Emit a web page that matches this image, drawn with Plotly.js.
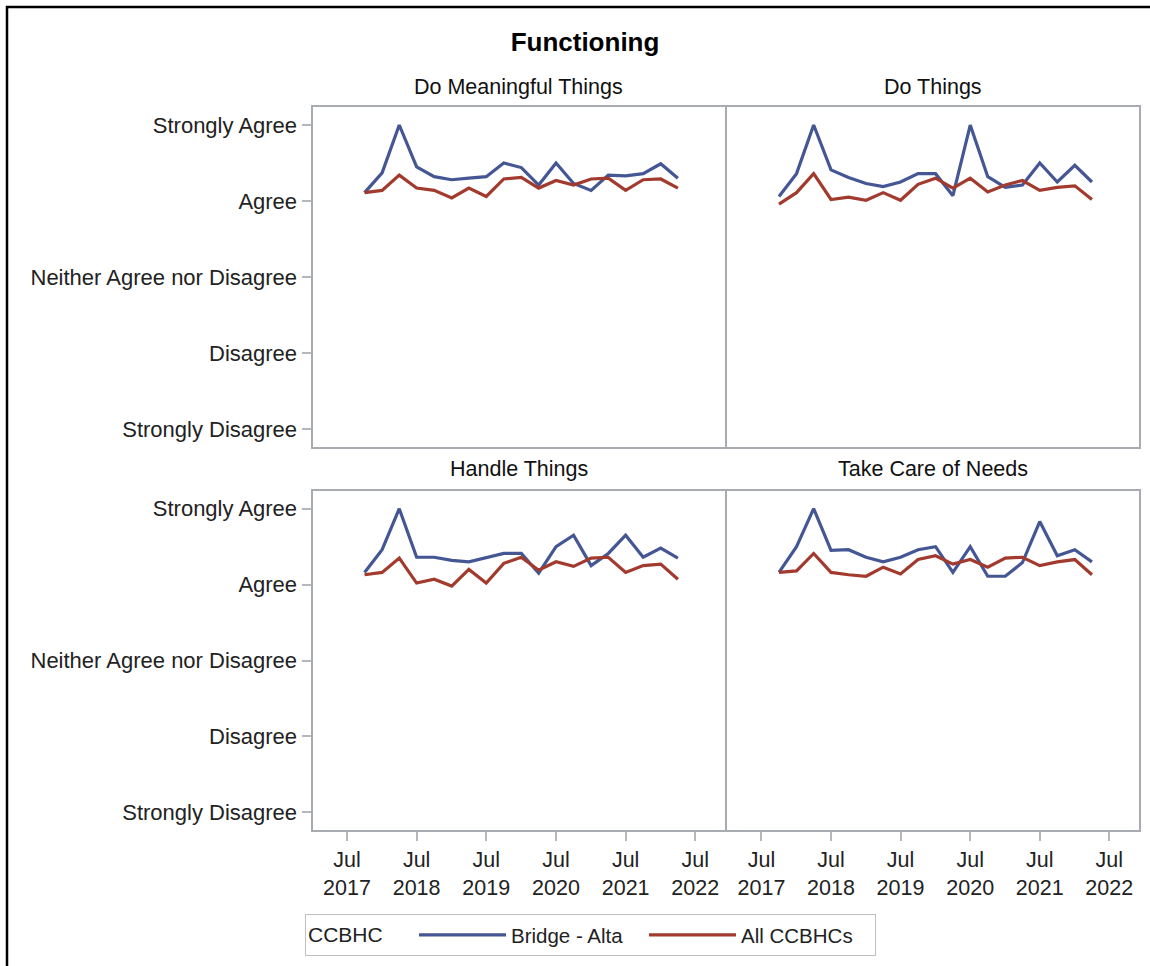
<!DOCTYPE html>
<html>
<head>
<meta charset="utf-8">
<script src="https://cdn.plot.ly/plotly-3.0.1.min.js"></script>
<style>html,body{margin:0;padding:0;background:#fff;}#chart{width:1150px;height:966px;}</style>
</head>
<body>
<div id="chart"></div>
<script>
// Quarterly survey dates
var dates = ["2017-10-01","2018-01-01","2018-04-01","2018-07-01","2018-10-01","2019-01-01","2019-04-01","2019-07-01","2019-10-01","2020-01-01","2020-04-01","2020-07-01","2020-10-01","2021-01-01","2021-04-01","2021-07-01","2021-10-01","2022-01-01","2022-04-01"];

// Scale: 1 = Strongly Disagree ... 5 = Strongly Agree
var scaleVals = [1, 2, 3, 4, 5];
var scaleLabels = ["Strongly Disagree", "Disagree", "Neither Agree nor Disagree", "Agree", "Strongly Agree"];

var panelTitles = ["Do Meaningful Things", "Do Things", "Handle Things", "Take Care of Needs"];
var seriesNames = ["Bridge - Alta", "All CCBHCs"];

var meaningfulBridge = [4.11,4.37,5.00,4.45,4.32,4.28,4.30,4.32,4.50,4.44,4.21,4.50,4.23,4.14,4.34,4.33,4.36,4.49,4.30];
var meaningfulAll    = [4.11,4.14,4.34,4.17,4.14,4.04,4.17,4.06,4.29,4.31,4.17,4.27,4.21,4.29,4.30,4.14,4.28,4.29,4.17];

var doThingsBridge = [4.06,4.36,5.00,4.41,4.31,4.23,4.19,4.25,4.36,4.36,4.07,5.00,4.32,4.18,4.21,4.50,4.25,4.47,4.25];
var doThingsAll    = [3.96,4.11,4.36,4.02,4.05,4.01,4.11,4.01,4.22,4.30,4.17,4.30,4.12,4.21,4.27,4.14,4.18,4.20,4.02];

var handleBridge = [4.16,4.46,5.00,4.36,4.36,4.32,4.30,4.36,4.41,4.41,4.15,4.50,4.65,4.25,4.41,4.65,4.36,4.48,4.35];
var handleAll    = [4.13,4.16,4.35,4.02,4.07,3.98,4.20,4.02,4.28,4.36,4.19,4.30,4.24,4.35,4.36,4.16,4.25,4.27,4.07];

var needsBridge = [4.16,4.50,5.00,4.45,4.46,4.36,4.30,4.36,4.46,4.50,4.16,4.50,4.11,4.11,4.29,4.83,4.38,4.46,4.30];
var needsAll    = [4.16,4.18,4.41,4.16,4.13,4.11,4.23,4.14,4.33,4.38,4.27,4.33,4.23,4.35,4.36,4.25,4.30,4.33,4.13];

var xTickVals = ["2017-07-01","2018-07-01","2019-07-01","2020-07-01","2021-07-01","2022-07-01"];
var xTickText = ["Jul<br>2017","Jul<br>2018","Jul<br>2019","Jul<br>2020","Jul<br>2021","Jul<br>2022"];

var blue = "#445694", red = "#A23A2E";
var FONT = "Liberation Sans, Arial, sans-serif";

var panelData = [
  [meaningfulBridge, meaningfulAll],
  [doThingsBridge, doThingsAll],
  [handleBridge, handleAll],
  [needsBridge, needsAll]
];

var traces = [];
panelData.forEach(function(p, i) {
  var sfx = i === 0 ? "" : String(i + 1);
  [0, 1].forEach(function(s) {
    traces.push({
      x: dates, y: p[s], type: "scatter", mode: "lines",
      name: seriesNames[s],
      line: {color: s === 0 ? blue : red, width: 3.2},
      xaxis: "x" + sfx, yaxis: "y" + sfx,
      showlegend: i === 0,
      hoverinfo: "x+y+name"
    });
  });
});

var W = 1150, H = 966;
function px(x) { return x / W; }
function py(y) { return 1 - y / H; }

var xL = [px(312.5), px(725)], xR = [px(727), px(1139)];
var yT = [py(446.7), py(107)], yB = [py(830), py(490.7)];
var xRange = ["2017-01-01", "2022-12-04"];
var yRange = [0.767, 5.237];
var gridCol = "#a8acb0";

function xa(dom, anchor, showLabels) {
  return {
    domain: dom, anchor: anchor, type: "date", range: xRange,
    tickvals: xTickVals, ticktext: xTickText,
    showticklabels: showLabels, ticks: showLabels ? "outside" : "",
    ticklen: 9, tickwidth: 2, tickcolor: "#b4b8bc",
    showline: true, mirror: true, linecolor: gridCol, linewidth: 2,
    showgrid: false, zeroline: false,
    tickfont: {family: FONT, size: 21.5, color: "#222"},
    fixedrange: true
  };
}
function ya(dom, anchor, showLabels) {
  return {
    domain: dom, anchor: anchor, range: yRange,
    tickvals: scaleVals, ticktext: scaleLabels,
    showticklabels: showLabels, ticks: showLabels ? "outside" : "",
    ticklen: 9, tickwidth: 2, tickcolor: "#b4b8bc",
    showline: true, mirror: true, linecolor: gridCol, linewidth: 2,
    showgrid: false, zeroline: false,
    tickfont: {family: FONT, size: 22, color: "#222"},
    fixedrange: true
  };
}

var titleFont = {family: FONT, size: 21.5, color: "#111"};
var layout = {
  width: W, height: H,
  margin: {l: 0, r: 0, t: 0, b: 0},
  paper_bgcolor: "#fff", plot_bgcolor: "#fff",
  font: {family: FONT, color: "#222"},
  title: {text: "<b>Functioning</b>", x: px(585), y: py(42), xref: "paper", yref: "paper",
          xanchor: "center", yanchor: "middle", font: {family: FONT, size: 26, color: "#000"}},
  xaxis: xa(xL, "y", false), yaxis: ya(yT, "x", true),
  xaxis2: xa(xR, "y2", false), yaxis2: ya(yT, "x2", false),
  xaxis3: xa(xL, "y3", true), yaxis3: ya(yB, "x3", true),
  xaxis4: xa(xR, "y4", true), yaxis4: ya(yB, "x4", false),
  annotations: [
    {text: panelTitles[0], x: px(518.75), y: py(87), xref: "paper", yref: "paper", showarrow: false, font: titleFont, xanchor: "center", yanchor: "middle"},
    {text: panelTitles[1], x: px(933), y: py(87), xref: "paper", yref: "paper", showarrow: false, font: titleFont, xanchor: "center", yanchor: "middle"},
    {text: panelTitles[2], x: px(518.75), y: py(469), xref: "paper", yref: "paper", showarrow: false, font: titleFont, xanchor: "center", yanchor: "middle"},
    {text: panelTitles[3], x: px(933), y: py(469), xref: "paper", yref: "paper", showarrow: false, font: titleFont, xanchor: "center", yanchor: "middle"}
  ],
  shapes: [
    {type: "line", xref: "paper", yref: "paper", x0: px(7), x1: px(7), y0: 0, y1: py(6), line: {color: "#000", width: 2.5}},
    {type: "line", xref: "paper", yref: "paper", x0: px(6), x1: 1, y0: py(7), y1: py(7), line: {color: "#000", width: 2.5}}
  ],
  showlegend: true,
  legend: {
    orientation: "h", x: px(305), y: py(914), xanchor: "left", yanchor: "top",
    title: {text: "CCBHC    ", font: {family: FONT, size: 21, color: "#222"}},
    font: {family: FONT, size: 20.5, color: "#222"},
    bgcolor: "#fff", bordercolor: "#c0c0c0", borderwidth: 1,
    itemwidth: 87, entrywidth: 128, entrywidthmode: "pixels", tracegroupgap: 0
  }
};

Plotly.newPlot("chart", traces, layout, {displayModeBar: false, staticPlot: true});
</script>
</body>
</html>
